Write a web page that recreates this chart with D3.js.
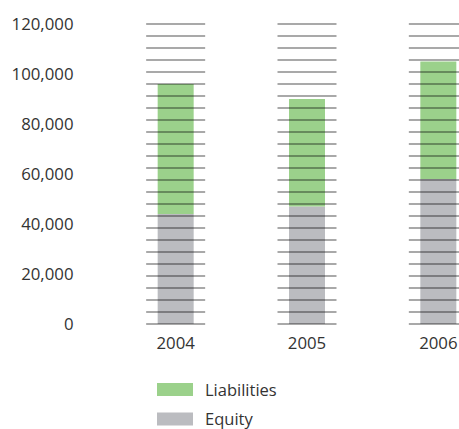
<!DOCTYPE html>
<html>
<head>
<meta charset="utf-8">
<script src="https://cdn.jsdelivr.net/npm/d3@7/dist/d3.min.js"></script>
<style>
  html, body { margin: 0; padding: 0; background: #fff; }
  svg { display: block; }
  text { font-family: "Open Sans", "Noto Sans", sans-serif; fill: #333; }
</style>
</head>
<body>
<svg id="chart" width="459" height="429"></svg>
<script>
// Balance sheet composition by year
const years = ["2004", "2005", "2006"];
const equity = [44000, 47000, 58000];
const liabilities = [52000, 43000, 47000];
const yTicks = [0, 20000, 40000, 60000, 80000, 100000, 120000];
const seriesNames = ["Liabilities", "Equity"];
const seriesColors = ["#9bd18b", "#bbbcc0"];

const svg = d3.select("#chart");
const plotTop = 24, plotBottom = 324;

const x = d3.scaleBand().domain(years).range([110, 504]).paddingInner(0).paddingOuter(0);
const y = d3.scaleLinear().domain([0, 120000]).range([plotBottom, plotTop]);

const barW = 36, lineW = 60;
const cx = d => x(d) + x.bandwidth() / 2;

// stacked data
const rows = years.map((yr, i) => ({ year: yr, Equity: equity[i], Liabilities: liabilities[i] }));
const stack = d3.stack().keys(["Equity", "Liabilities"])(rows);
const color = d3.scaleOrdinal().domain(seriesNames).range(seriesColors);

svg.append("g").selectAll("g")
  .data(stack).join("g")
  .attr("fill", s => color(s.key))
  .selectAll("rect")
  .data(s => s).join("rect")
  .attr("x", d => cx(d.data.year) - barW / 2)
  .attr("width", barW)
  .attr("y", d => y(d[1]))
  .attr("height", d => y(d[0]) - y(d[1]));

// decorative rulings across each column, 25 equal steps over the axis range
const rulings = d3.range(26).map(i => i * 120000 / 25);
const rg = svg.append("g");
years.forEach(yr => {
  rg.append("g").selectAll("line").data(rulings).join("line")
    .attr("x1", cx(yr) - lineW / 2 + 0.5)
    .attr("x2", cx(yr) + lineW / 2 - 0.5)
    .attr("y1", d => y(d))
    .attr("y2", d => y(d))
    .attr("stroke", "#000")
    .attr("stroke-opacity", 0.45)
    .attr("stroke-width", 1.6);
});

// y axis labels
const yAxis = d3.axisLeft(y).tickValues(yTicks).tickSize(0).tickPadding(0)
  .tickFormat(d3.format(","));
const ya = svg.append("g").attr("transform", "translate(73.5,0)").call(yAxis);
ya.select(".domain").remove();
ya.selectAll("text").style("font-size", "16.8px").attr("fill", "#333")
  .style("font-family", "'Open Sans', sans-serif");

// x axis labels
const xAxis = d3.axisBottom(x).tickSize(0).tickPadding(0);
const xa = svg.append("g").attr("transform", `translate(0,${plotBottom + 13})`).call(xAxis);
xa.select(".domain").remove();
xa.selectAll("text").style("font-size", "16.8px").attr("fill", "#333")
  .style("font-family", "'Open Sans', sans-serif");

// legend
const lg = svg.append("g").attr("transform", "translate(157,383)");
seriesNames.forEach((name, i) => {
  const g = lg.append("g").attr("transform", `translate(0,${i * 29.5})`);
  g.append("rect").attr("width", 36).attr("height", 13).attr("fill", color(name));
  g.append("text").attr("x", 48).attr("y", 12.5).style("font-size", "16.5px").text(name);
});
</script>
</body>
</html>
